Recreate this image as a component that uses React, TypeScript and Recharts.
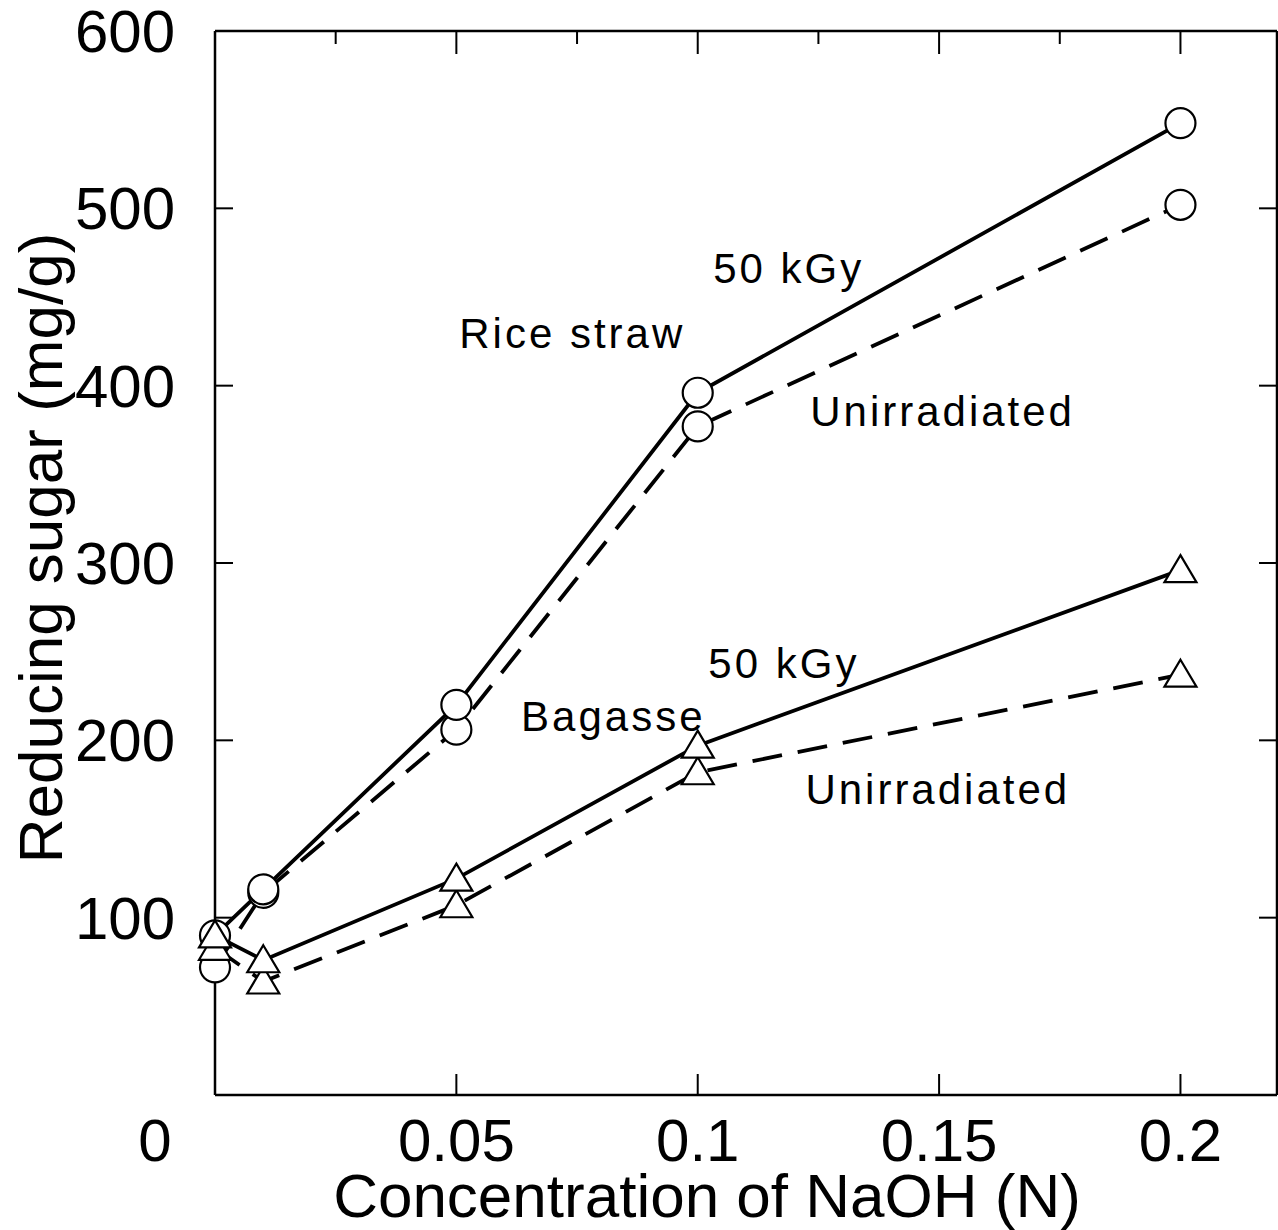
import React from 'react';
import { LineChart, Line, XAxis, YAxis, ReferenceDot, Label } from 'recharts';

const FONT = '"Liberation Sans", Arial, Helvetica, sans-serif';

// NaOH concentration (N)
const concentrations = [0, 0.01, 0.05, 0.1, 0.2];
// Reducing sugar (mg/g)
const riceIrradiated = [90, 116, 220, 396, 548];
const riceUnirradiated = [72, 114, 206, 377, 502];
const bagasseIrradiated = [90, 76, 122, 197, 296];
const bagasseUnirradiated = [83, 64, 107, 182, 237];

const xTicks = [0, 0.05, 0.1, 0.15, 0.2];
const xTickLabels = ['0', '0.05', '0.1', '0.15', '0.2'];
const xMinorTicks = [0.025, 0.075, 0.125, 0.175];
const yTicks = [100, 200, 300, 400, 500, 600];
const yTickLabels = ['100', '200', '300', '400', '500', '600'];

const annotationTexts = ['50 kGy', 'Rice straw', 'Unirradiated', '50 kGy', 'Bagasse', 'Unirradiated'];
const annotationX = [0.1032, 0.0506, 0.1233, 0.1022, 0.0634, 0.1223];
const annotationY = [458, 421, 377, 235, 205, 164];

const data = concentrations.map((c, i) => ({
  c,
  riceIrr: riceIrradiated[i],
  riceUn: riceUnirradiated[i],
  bagIrr: bagasseIrradiated[i],
  bagUn: bagasseUnirradiated[i],
}));

const XTick = (props: any) => {
  const { x, y, payload } = props;
  const i = xTicks.indexOf(payload.value);
  const shift = payload.value === 0 ? -60 : 0;
  return (
    <text x={x + shift} y={y} textAnchor="middle" fontSize={60} fontFamily={FONT} fill="#000">
      {xTickLabels[i]}
    </text>
  );
};

const YTick = (props: any) => {
  const { x, y, payload } = props;
  const i = yTicks.indexOf(payload.value);
  return (
    <text x={x} y={y + 21} textAnchor="end" fontSize={60} fontFamily={FONT} fill="#000">
      {yTickLabels[i]}
    </text>
  );
};

const EmptyTick = () => <g />;

const CircleDot = (p: any) => (
  <circle key={`c-${p.index}-${p.dataKey}`} cx={p.cx} cy={p.cy} r={15} fill="#fff" stroke="#000" strokeWidth={2.2} />
);

const TriangleDot = (p: any) => (
  <path
    key={`t-${p.index}-${p.dataKey}`}
    d={`M ${p.cx} ${p.cy - 15} L ${p.cx + 16} ${p.cy + 12} L ${p.cx - 16} ${p.cy + 12} Z`}
    fill="#fff"
    stroke="#000"
    strokeWidth={2.2}
    strokeLinejoin="miter"
  />
);

const AXIS = { stroke: '#000', strokeWidth: 2.5 };
const TICK = { stroke: '#000', strokeWidth: 2 };

export default function App() {
  return (
    <div style={{ position: 'absolute', left: 0, top: 0, background: '#fff' }}>
      <LineChart width={1278} height={1230} data={data} margin={{ top: 29, right: 0, bottom: 0, left: 0 }}>
        <XAxis
          xAxisId="b"
          dataKey="c"
          type="number"
          domain={[0, 0.22]}
          ticks={xTicks}
          interval={0}
          height={135}
          axisLine={AXIS}
          tickLine={TICK}
          tickSize={-21}
          tickMargin={87}
          tick={XTick}
        >
          <Label
            content={(p: any) => {
              const vb = p.viewBox;
              return (
                <text
                  x={vb.x + vb.width / 2 - 39}
                  y={vb.y + 122}
                  textAnchor="middle"
                  fontSize={62}
                  fontFamily={FONT}
                  fill="#000"
                >
                  Concentration of NaOH (N)
                </text>
              );
            }}
          />
        </XAxis>
        <XAxis
          xAxisId="t"
          dataKey="c"
          type="number"
          orientation="top"
          domain={[0, 0.22]}
          allowDataOverflow
          ticks={xTicks.slice(1)}
          interval={0}
          height={1}
          axisLine={AXIS}
          tickLine={TICK}
          tickSize={-23}
          tick={EmptyTick}
        />
        <XAxis
          xAxisId="tm"
          dataKey="c"
          type="number"
          orientation="top"
          domain={[0, 0.22]}
          allowDataOverflow
          ticks={xMinorTicks}
          interval={0}
          height={1}
          axisLine={false}
          tickLine={TICK}
          tickSize={-14}
          tick={EmptyTick}
        />
        <YAxis
          yAxisId="l"
          type="number"
          domain={[0, 600]}
          ticks={yTicks}
          interval={0}
          width={215}
          axisLine={AXIS}
          tickLine={TICK}
          tickSize={-18}
          tickMargin={58}
          tick={YTick}
        >
          <Label
            content={(p: any) => {
              const vb = p.viewBox;
              const cx = vb.x + 62;
              const cy = vb.y + vb.height / 2 - 15;
              return (
                <text
                  x={cx}
                  y={cy}
                  transform={`rotate(-90 ${cx} ${cy})`}
                  textAnchor="middle"
                  fontSize={62}
                  fontFamily={FONT}
                  fill="#000"
                >
                  Reducing sugar (mg/g)
                </text>
              );
            }}
          />
        </YAxis>
        <YAxis
          yAxisId="r"
          orientation="right"
          type="number"
          domain={[0, 600]}
          allowDataOverflow
          ticks={yTicks.slice(0, 5)}
          interval={0}
          width={1}
          axisLine={AXIS}
          tickLine={TICK}
          tickSize={-18}
          tick={EmptyTick}
        />

        <Line xAxisId="b" yAxisId="l" type="linear" dataKey="riceIrr" stroke="#000" strokeWidth={3.8} dot={false} activeDot={false} isAnimationActive={false} />
        <Line xAxisId="b" yAxisId="l" type="linear" dataKey="riceUn" stroke="#000" strokeWidth={3.8} strokeDasharray="30 16" dot={false} activeDot={false} isAnimationActive={false} />
        <Line xAxisId="b" yAxisId="l" type="linear" dataKey="bagIrr" stroke="#000" strokeWidth={3.8} dot={false} activeDot={false} isAnimationActive={false} />
        <Line xAxisId="b" yAxisId="l" type="linear" dataKey="bagUn" stroke="#000" strokeWidth={3.8} strokeDasharray="30 16" dot={false} activeDot={false} isAnimationActive={false} />

        <Line xAxisId="b" yAxisId="l" type="linear" dataKey="riceUn" stroke="none" dot={CircleDot} activeDot={false} isAnimationActive={false} />
        <Line xAxisId="b" yAxisId="l" type="linear" dataKey="riceIrr" stroke="none" dot={CircleDot} activeDot={false} isAnimationActive={false} />
        <Line xAxisId="b" yAxisId="l" type="linear" dataKey="bagUn" stroke="none" dot={TriangleDot} activeDot={false} isAnimationActive={false} />
        <Line xAxisId="b" yAxisId="l" type="linear" dataKey="bagIrr" stroke="none" dot={TriangleDot} activeDot={false} isAnimationActive={false} />

        {annotationTexts.map((t, i) => (
          <ReferenceDot
            key={`ann-${i}`}
            xAxisId="b"
            yAxisId="l"
            x={annotationX[i]}
            y={annotationY[i]}
            r={0}
            fill="none"
            stroke="none"
            label={(p: any) => (
              <text
                x={p.viewBox.x}
                y={p.viewBox.y}
                textAnchor="start"
                fontSize={42}
                fontFamily={FONT}
                fill="#000"
                style={{ letterSpacing: '3px' }}
              >
                {t}
              </text>
            )}
          />
        ))}
      </LineChart>
    </div>
  );
}
